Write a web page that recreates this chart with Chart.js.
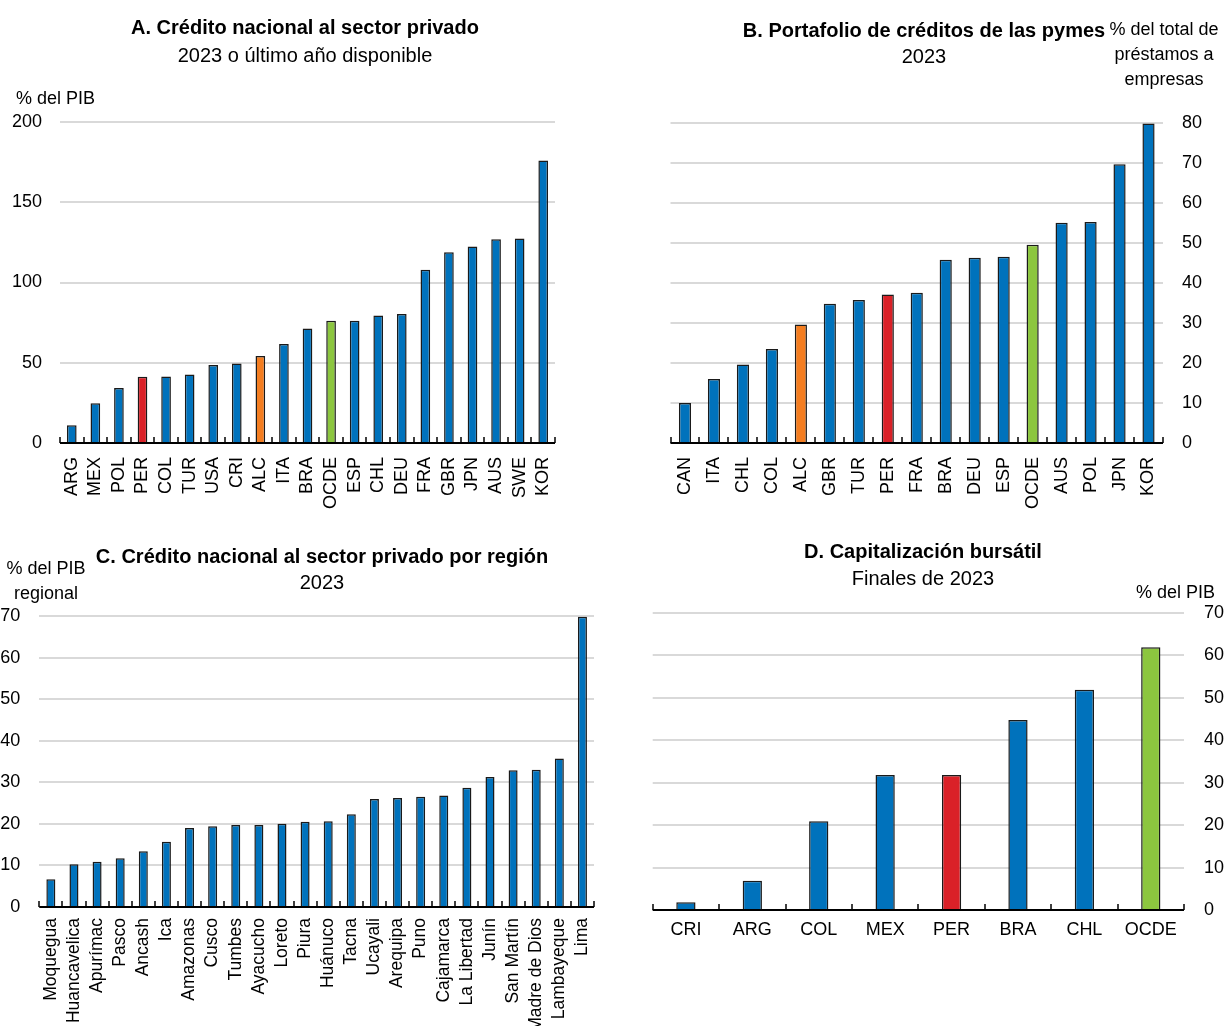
<!DOCTYPE html>
<html><head><meta charset="utf-8">
<script src="https://cdn.jsdelivr.net/npm/chart.js@4/dist/chart.umd.min.js"></script>
<style>
html,body{margin:0;padding:0;background:#fff;}
#wrap{position:relative;width:1224px;height:1026px;overflow:hidden;font-family:'Liberation Sans',Arial,sans-serif;color:#000;}
canvas{position:absolute;left:0;top:0;}
.t{position:absolute;white-space:nowrap;transform:translate(-50%,-50%);font-size:20px;line-height:1;}
.b{font-weight:bold;}
.u{position:absolute;white-space:nowrap;font-size:18px;line-height:25px;}
</style></head><body><div id="wrap">
<canvas id="cA" width="1224" height="1026"></canvas>
<canvas id="cB" width="1224" height="1026"></canvas>
<canvas id="cC" width="1224" height="1026"></canvas>
<canvas id="cD" width="1224" height="1026"></canvas>

<div class="t b" style="left:305px;top:27px;">A. Crédito nacional al sector privado</div>
<div class="t" style="left:305px;top:55px;">2023 o último año disponible</div>
<div class="u" style="left:16px;top:86px;">% del PIB</div>

<div class="t b" style="left:924px;top:30px;">B. Portafolio de créditos de las pymes</div>
<div class="t" style="left:924px;top:56px;">2023</div>
<div class="u" style="left:1104px;top:17px;width:120px;text-align:center;">% del total de<br>préstamos a<br>empresas</div>

<div class="t b" style="left:322px;top:556px;">C. Crédito nacional al sector privado por región</div>
<div class="t" style="left:322px;top:582px;">2023</div>
<div class="u" style="left:4px;top:556px;width:84px;text-align:center;">% del PIB<br>regional</div>

<div class="t b" style="left:923px;top:551px;">D. Capitalización bursátil</div>
<div class="t" style="left:923px;top:578px;">Finales de 2023</div>
<div class="u" style="right:9px;top:580px;">% del PIB</div>
</div>
<script>
// ---------- data ----------
const catA = ['ARG','MEX','POL','PER','COL','TUR','USA','CRI','ALC','ITA','BRA','OCDE','ESP','CHL','DEU','FRA','GBR','JPN','AUS','SWE','KOR'];
const valA = [11.1,24.8,34.2,41.3,41.5,42.7,48.6,49.6,54.2,61.7,71.3,76.1,76.1,79.4,80.3,108,118.9,122.4,127,127.4,176];
const ticksA = [0,50,100,150,200];

const catB = ['CAN','ITA','CHL','COL','ALC','GBR','TUR','PER','FRA','BRA','DEU','ESP','OCDE','AUS','POL','JPN','KOR'];
const valB = [10,16,19.6,23.5,29.6,34.8,35.7,37.1,37.5,45.8,46.3,46.5,49.5,55,55.2,69.6,79.8];
const ticksB = [0,10,20,30,40,50,60,70,80];

const catC = ['Moquegua','Huancavelica','Apurímac','Pasco','Ancash','Ica','Amazonas','Cusco','Tumbes','Ayacucho','Loreto','Piura','Huánuco','Tacna','Ucayali','Arequipa','Puno','Cajamarca','La Libertad','Junín','San Martín','Madre de Dios','Lambayeque','Lima'];
const valC = [6.7,10.3,10.9,11.7,13.4,15.7,19.0,19.4,19.7,19.7,20.0,20.5,20.6,22.3,26.0,26.2,26.5,26.8,28.7,31.3,32.9,33.0,35.7,69.8];
const ticksC = [0,10,20,30,40,50,60,70];

const catD = ['CRI','ARG','COL','MEX','PER','BRA','CHL','OCDE'];
const valD = [1.8,6.9,20.9,31.8,31.8,44.8,51.9,61.9];
const ticksD = [0,10,20,30,40,50,60,70];

// ---------- styling ----------
const FONT = "'Liberation Sans', Arial, sans-serif";
const BLUE = '#0072BC', RED = '#DA2128', ORANGE = '#F47D20', GREEN = '#8CC63F';
function colorFor(l){ return l==='PER'?RED : l==='ALC'?ORANGE : l==='OCDE'?GREEN : BLUE; }

const axisPlugin = {
  id:'axisTicks',
  afterDatasetsDraw(chart, args, opts){
    const xs = chart.scales.x, ys = chart.scales.y, ctx = chart.ctx;
    const y0 = ys.getPixelForValue(0);
    const n = chart.data.labels.length;
    ctx.save();
    ctx.strokeStyle = '#000';
    ctx.lineWidth = 1.5;
    for (let i=0;i<=n;i++){
      const px = Math.round(xs.getPixelForValue(i-0.5));
      ctx.beginPath(); ctx.moveTo(px, y0); ctx.lineTo(px, y0-opts.len); ctx.stroke();
    }
    ctx.lineWidth = 2;
    ctx.beginPath(); ctx.moveTo(xs.left, y0); ctx.lineTo(xs.right, y0); ctx.stroke();
    ctx.restore();
  }
};

function makeChart(id, cats, vals, ticks, cfg){
  const W = 1224, H = 1026;
  const yW = cfg.yW, xH = cfg.xH;
  const pad = {
    top: cfg.top,
    bottom: H - cfg.bottom - xH,
    left: cfg.yPos==='left' ? cfg.left - yW : cfg.left,
    right: cfg.yPos==='right' ? W - cfg.right - yW : W - cfg.right
  };
  new Chart(document.getElementById(id), {
    type:'bar',
    data:{ labels: cats, datasets:[{
      data: vals,
      backgroundColor: cats.map(colorFor),
      borderColor:'#1a1a1a', borderWidth:1.5, borderSkipped:'start',
      categoryPercentage:1, barPercentage:cfg.bp
    }]},
    options:{
      responsive:false, animation:false, devicePixelRatio:1,
      layout:{ padding: pad },
      plugins:{ legend:{display:false}, tooltip:{enabled:false}, title:{display:false},
        axisTicks:{ len: cfg.tickLen } },
      scales:{
        x:{
          grid:{display:false}, border:{display:false},
          ticks:{ autoSkip:false, maxRotation:cfg.rot, minRotation:cfg.rot, padding:cfg.xPad,
            color:'#000', font:{family:FONT, size:cfg.xFs} },
          afterFit(s){ s.height = xH; }
        },
        y:{
          position: cfg.yPos, min:0, max: ticks[ticks.length-1],
          grid:{ color:'#d9d9d9', lineWidth:2, drawTicks:false },
          border:{display:false},
          ticks:{ padding: cfg.yPad, color:'#000', font:{family:FONT, size:18} },
          afterBuildTicks(s){ s.ticks = ticks.map(v=>({value:v})); },
          afterFit(s){ s.width = yW; }
        }
      }
    },
    plugins:[axisPlugin]
  });
}

makeChart('cA', catA, valA, ticksA, {left:60, right:555, top:122, bottom:443, yPos:'left', yW:60, xH:80, yPad:18, xPad:6, xFs:18, rot:90, bp:0.41, tickLen:6});
makeChart('cB', catB, valB, ticksB, {left:670.5, right:1163, top:122.7, bottom:443, yPos:'right', yW:50, xH:80, yPad:19, xPad:6, xFs:18, rot:90, bp:0.42, tickLen:6});
makeChart('cC', catC, valC, ticksC, {left:39.3, right:594, top:616, bottom:907, yPos:'left', yW:39.3, xH:119, yPad:19, xPad:3, xFs:17.5, rot:90, bp:0.39, tickLen:6});
makeChart('cD', catD, valD, ticksD, {left:652.7, right:1184, top:613, bottom:910, yPos:'right', yW:40, xH:50, yPad:20, xPad:1, xFs:18, rot:0, bp:0.29, tickLen:6});
</script>
</body></html>
